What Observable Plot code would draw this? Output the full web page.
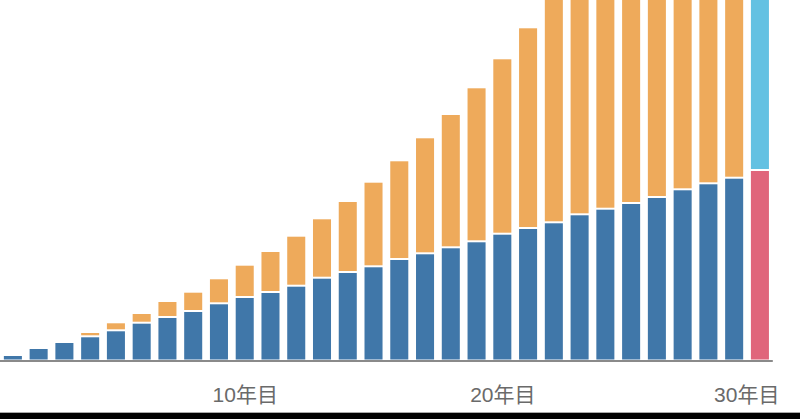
<!DOCTYPE html>
<html>
<head>
<meta charset="utf-8">
<script src="https://cdn.jsdelivr.net/npm/d3@7"></script>
<script src="https://cdn.jsdelivr.net/npm/@observablehq/plot@0.6"></script>
<style>
  html, body { margin: 0; padding: 0; background: #fff; }
  #chart svg { display: block; }
  #band { height: 6px; background: #000; border-top: 1px solid #a8a8a8; }
</style>
</head>
<body>
<div id="chart"></div>
<div id="band"></div>
<script>
// Years 1..29: accumulated principal (blue) and gains (orange)
const years = d3.range(1, 30);
const principal = [5.5, 12.5, 18.5, 24.2, 30.2, 37.8, 43.5, 49.5, 57.2, 63.5,
  68.5, 74.8, 82.8, 88.5, 94.2, 101.5, 107.2, 113.2, 119.2, 126.8,
  132.5, 138.2, 146.2, 151.8, 157.5, 163.5, 171.2, 177.2, 182.8];
const gains = [0, 0, 0, 4.3, 8.0, 9.7, 16, 19.3, 25, 32.3,
  41, 50, 59.4, 71, 84.6, 98.7, 116, 133.3, 154, 175.4,
  200.7, 229, 257, 289, 325, 362, 402, 446, 494];
// Year 30: comparison bar
const finalYear = 30;
const finalLower = 190.5;
const finalUpper = 486;

const seriesNames = ["元本", "運用益", "比較元本", "比較運用益"];
const seriesColors = ["#4077a9", "#eeaa5b", "#e0657b", "#63c1e2"];

const tickYears = [10, 20, 30];
const tickLabels = ["10年目", "20年目", "30年目"];

const rows = [];
years.forEach((yr, i) => {
  rows.push({year: yr, series: seriesNames[0], value: principal[i]});
  rows.push({year: yr, series: seriesNames[1], value: gains[i]});
});
rows.push({year: finalYear, series: seriesNames[2], value: finalLower});
rows.push({year: finalYear, series: seriesNames[3], value: finalUpper});

const ticks = tickYears.map((y, i) => ({year: y, label: tickLabels[i]}));

const chart = Plot.plot({
  width: 800,
  height: 412,
  marginLeft: 0,
  marginRight: 27.2,
  marginTop: 0,
  marginBottom: 51.5,
  style: {fontFamily: "'Liberation Sans', 'Noto Sans CJK JP', sans-serif", background: "#fff"},
  x: {type: "band", domain: d3.range(1, 31), paddingInner: 0.3, paddingOuter: 0.15, round: false, axis: null},
  y: {domain: [0, 360.5], axis: null},
  color: {domain: seriesNames, range: seriesColors},
  marks: [
    Plot.barY(rows, Plot.stackY({
      x: "year", y: "value", fill: "series",
      insetTop: 1, insetBottom: 1, clip: true
    })),
    Plot.ruleY([0], {stroke: "#8a8a8a", strokeWidth: 1.8}),
    Plot.text(ticks.filter(d => d.year !== finalYear), {
      x: "year", y: 0, text: "label", dy: 34,
      fontSize: 21, fill: "#6a6a6a", textAnchor: "middle"
    }),
    Plot.text(ticks.filter(d => d.year === finalYear), {
      x: "year", y: 0, text: "label", dy: 34, dx: 19,
      fontSize: 21, fill: "#6a6a6a", textAnchor: "end"
    })
  ]
});
document.getElementById("chart").appendChild(chart);
</script>
</body>
</html>
